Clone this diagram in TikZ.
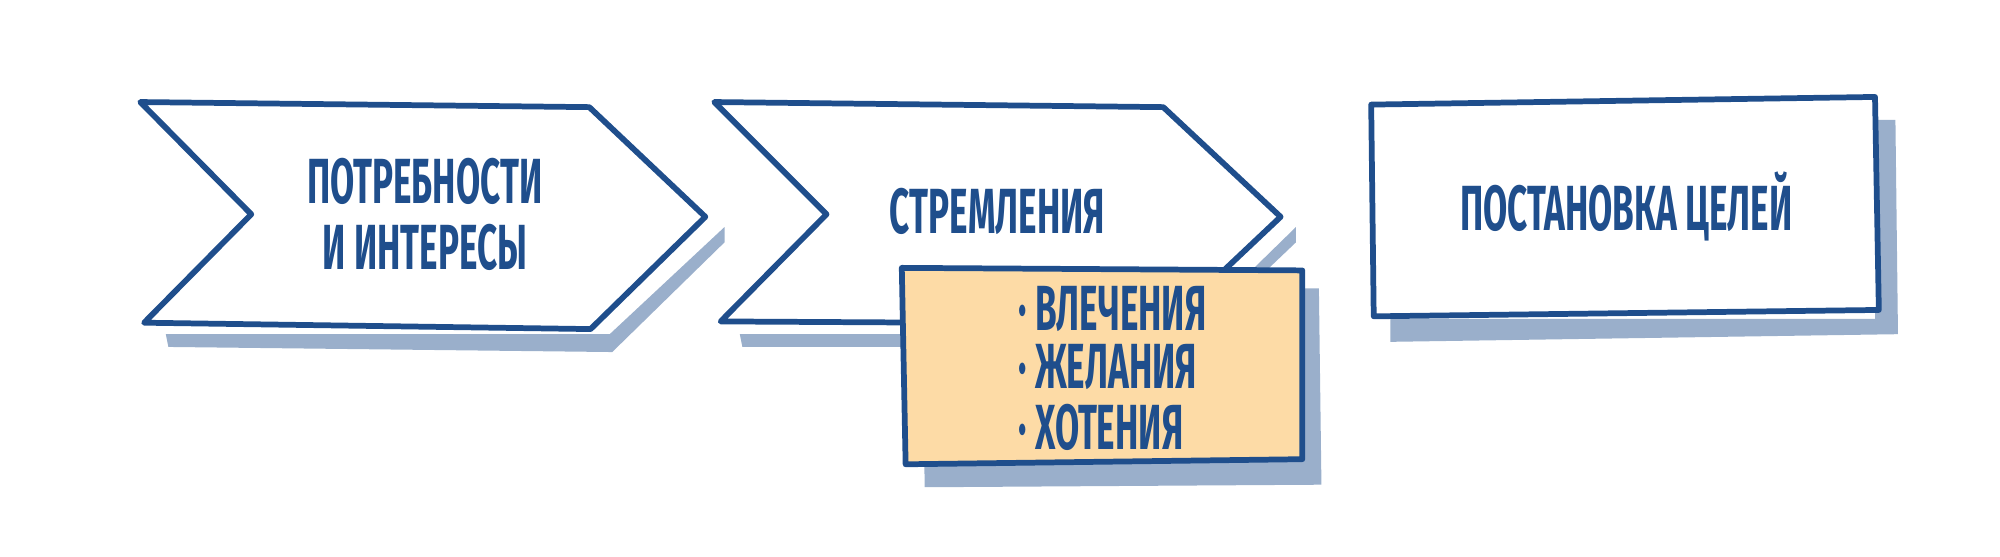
\documentclass[tikz,border=0pt]{standalone}
\usepackage{fontspec}
\setmainfont{Fira Sans}[FakeStretch=0.55]
\definecolor{ink}{HTML}{1F4E8C}
\definecolor{shad}{HTML}{9AAFCB}
\definecolor{peach}{HTML}{FDDBA6}
\begin{document}
\begin{tikzpicture}[x=1pt,y=-1pt,
  outl/.style={draw=ink,line width=4.5pt,line join=round,fill=white},
  lbl/.style={text=ink,font=\fontsize{50}{52}\selectfont\bfseries,align=center}]
\useasboundingbox (0,0) rectangle (1568,436);
% shadows
\fill[shad] (130,262) -- (478,262) -- (568,178) -- (568,190) -- (480,276) -- (132,272) -- cycle;
\fill[shad] (580,262) -- (930,262) -- (1016,178) -- (1016,190) -- (930,272) -- (582,272) -- cycle;
\fill[shad] (1470,94) -- (1486,94) -- (1488,262) -- (1090,268) -- (1090,250) -- (1470,250) -- cycle;
\fill[shad] (722,226) -- (1034,226) -- (1036,380) -- (725,382) -- cycle;
% shapes
\draw[outl] (110,80) -- (462,84) -- (553,170) -- (463,258) -- (113,253) -- (197,168) -- cycle;
\draw[outl] (560,80) -- (912,84) -- (1004,170) -- (915,254) -- (565,252) -- (648,168) -- cycle;
\draw[outl] (1075,82) -- (1470,76) -- (1473,243) -- (1077,248) -- cycle;
\draw[outl,fill=peach] (707,210) -- (1021,212) -- (1021,360) -- (710,364) -- cycle;
% texts
\node[lbl] (a) at (333,168) {ПОТРЕБНОСТИ\\И ИНТЕРЕСЫ};
\node[lbl] (b) at (782,166) {СТРЕМЛЕНИЯ};
\node[lbl] (c) at (1275,162) {ПОСТАНОВКА ЦЕЛЕЙ};
\node[lbl,anchor=west] (d1) at (795,242) {· ВЛЕЧЕНИЯ};
\node[lbl,anchor=west] (d2) at (795,288) {· ЖЕЛАНИЯ};
\node[lbl,anchor=west] (d3) at (795,335) {· ХОТЕНИЯ};
\end{tikzpicture}
\end{document}
